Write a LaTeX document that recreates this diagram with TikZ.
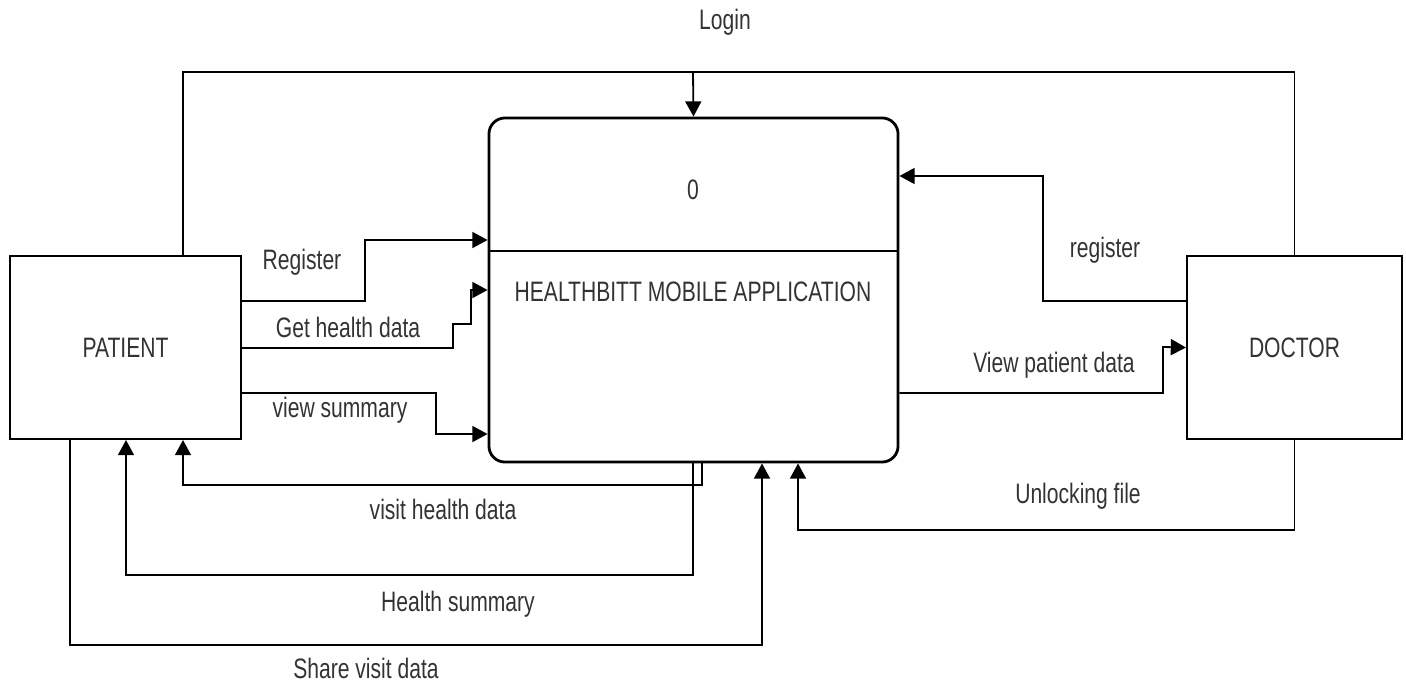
\documentclass[tikz,border=0pt]{standalone}
\usepackage{fontspec}
\setmainfont{Liberation Sans}[FakeStretch=0.75]
\usepackage{tikz}
\usepackage{xcolor}
\usetikzlibrary{arrows.meta}

\begin{document}
\begin{tikzpicture}[x=0.025cm,y=-0.025cm,
        font=\fontsize{20}{24}\selectfont,
        every node/.style={text=black!80},
        entity/.style={draw=black,line width=1.4pt,minimum width=5.775cm,minimum height=4.575cm,inner sep=0pt},
        process/.style={draw=black,line width=2pt,rounded corners=0.4cm,minimum width=10.225cm,minimum height=8.6cm,inner sep=0pt},
        line/.style={line width=1.3pt},
        flow/.style={line width=1.3pt,-{Triangle[length=0.38cm,width=0.4cm]}}]
        \useasboundingbox (0,0) rectangle (1406,685);
        % boxes
        \node[entity] (patient) at (125.5,347.5) {PATIENT};
        \node[entity,minimum width=5.375cm] (doctor) at (1294.5,347.5) {DOCTOR};
        \node[process] (app) at (693.5,290) {};
        \draw[line] (app.west |- 0,251) -- (app.east |- 0,251);
        \node (num) at (693,190) {0};
        \node (title) at (693,292) {HEALTHBITT MOBILE APPLICATION};
        % flow labels
        \node (login) at (725,22) {Login};
        \node (lregister) at (302,262) {Register};
        \node (lget) at (348,327) {Get health data};
        \node (lview) at (340,410) {view summary};
        \node (lvisit) at (443,509) {visit health data};
        \node (lhealth) at (458,604) {Health summary};
        \node (lshare) at (366,668) {Share visit data};
        \node (lunlock) at (1078,496) {Unlocking file};
        \node (ldregister) at (1105,250) {register};
        \node (lpatdata) at (1054,365) {View patient data};
        % login
        \coordinate (loginbus) at (693,72);
        \draw[line] (patient.north -| 183,0) |- (doctor.north |- loginbus) -- (doctor.north);
        \draw[flow] (loginbus) -- (app.north);
        % patient to app
        \draw[flow] (patient.east |- 0,301) -| (365,240) -- (app.west |- 0,240);
        \draw[flow] (patient.east |- 0,348) -| (453,324) -| (471,290) -- (app.west |- 0,290);
        \draw[flow] (patient.east |- 0,393) -| (436,434) -- (app.west |- 0,434);
        % app to patient
        \draw[flow] (app.south -| 702,0) |- (183,485) -- (patient.south -| 183,0);
        \draw[flow] (app.south -| 693,0) |- (126,575) -- (patient.south -| 126,0);
        \draw[flow] (patient.south -| 70,0) |- (762,645) -- (app.south -| 762,0);
        % doctor
        \draw[flow] (doctor.south) |- (798,530) -- (app.south -| 798,0);
        \draw[flow] (doctor.west |- 0,301) -| (1043,176) -- (app.east |- 0,176);
        \draw[flow] (app.east |- 0,393) -| (1163,347) -- (doctor.west);
\end{tikzpicture}
\end{document}
